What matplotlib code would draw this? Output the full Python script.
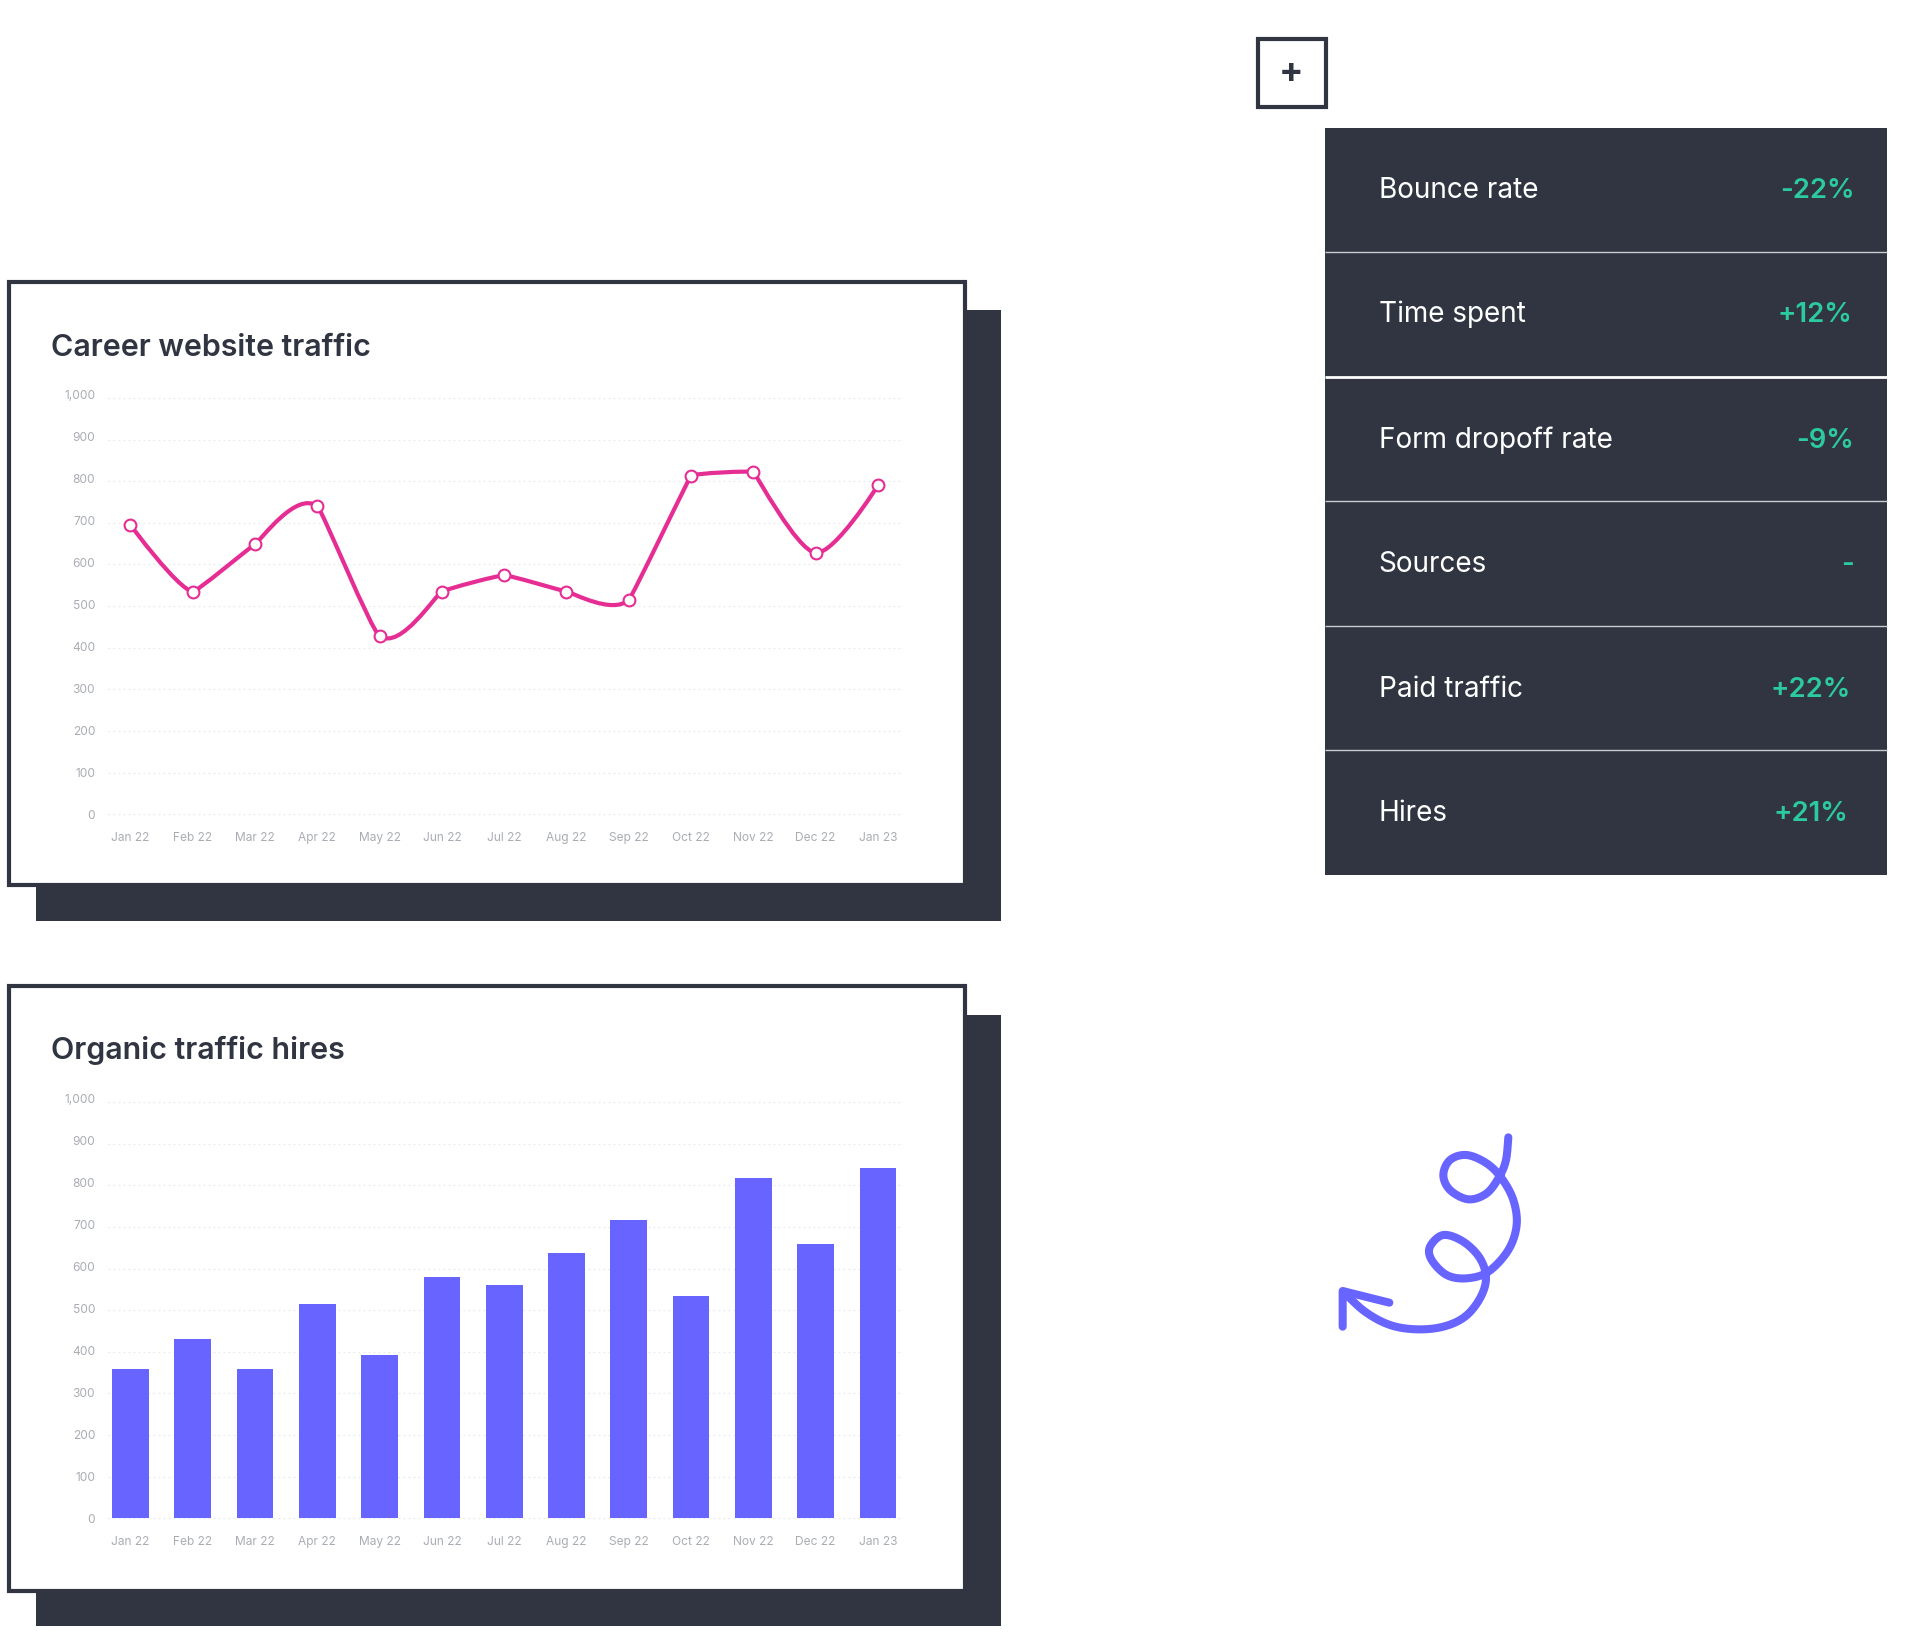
import numpy as np
import matplotlib
matplotlib.use("Agg")
import matplotlib.pyplot as plt
from matplotlib.patches import Rectangle, PathPatch
from matplotlib.path import Path
from matplotlib.transforms import ScaledTranslation

plt.rcParams['font.family'] = ['Inter', 'DejaVu Sans']

months = ["Jan 22", "Feb 22", "Mar 22", "Apr 22", "May 22", "Jun 22", "Jul 22",
          "Aug 22", "Sep 22", "Oct 22", "Nov 22", "Dec 22", "Jan 23"]
traffic = [695, 535, 649, 740, 428, 535, 574, 535, 515, 813, 822, 628, 790]
hires = [359, 430, 359, 515, 393, 580, 560, 637, 716, 534, 818, 660, 842]
yticks = [0, 100, 200, 300, 400, 500, 600, 700, 800, 900, 1000]
ylabels = ["0", "100", "200", "300", "400", "500", "600", "700", "800", "900", "1,000"]
metrics = ["Bounce rate", "Time spent", "Form dropoff rate", "Sources", "Paid traffic", "Hires"]
changes = ["-22%", "+12%", "-9%", "-", "+22%", "+21%"]

DARK = "#303541"
PINK = "#E52D93"
BLUE = "#6864FF"
GREEN = "#2BCB9F"
GREY = "#A9ADB3"
W, H = 1920, 1639
S = 1920 / 1568

# curve rounding entering / leaving each point (share of the neighbour chord)
round_in = [0, .12, .05, .17, .07, .05, .05, .05, .13, .02, .02, .15, 0]
round_out = [0, .03, .05, .04, .17, .05, .05, .05, .03, .02, .02, .15, 0]

fig = plt.figure(figsize=(W / 100, H / 100), dpi=100, facecolor="white")
bg = fig.add_axes([0, 0, 1, 1], zorder=0)
bg.set_xlim(0, W)
bg.set_ylim(H, 0)
bg.axis("off")


def box(x0, y0, x1, y1, **kw):
    bg.add_patch(Rectangle((x0 * S, y0 * S), (x1 - x0) * S, (y1 - y0) * S, **kw))


def card(top, title, box_dy=0.0, title_dy=0.0):
    box(29, top + 24, 817.3, top + 523, fc=DARK, ec="none")
    box(7.5, top + 1.5 + box_dy, 787.8, top + 494, fc="white", ec=DARK, lw=3.0)
    bg.text(42 * S, (top + 62 + title_dy) * S, title, fontsize=21.9, fontweight=600, color=DARK,
            va="baseline", ha="left")


def chart(top):
    left, right = 88 * S, 735 * S
    ytop, ybot = (top + 96) * S, (top + 436) * S
    ax = fig.add_axes([left / W, 1 - ybot / H, (right - left) / W, (ybot - ytop) / H], zorder=2)
    ax.patch.set_alpha(0)
    ax.set_ylim(0, 1000)
    ax.set_xlim(-0.364, 12.354)
    for s in ax.spines.values():
        s.set_visible(False)
    ax.set_xticks(range(len(months)), months)
    ax.set_yticks(yticks, ylabels)
    ax.tick_params(length=0, labelsize=8.6, labelcolor=GREY)
    ax.tick_params(axis="x", pad=13)
    ax.tick_params(axis="y", pad=9)
    ax.grid(axis="y", color="#E8EAEC", lw=0.9, ls=(0, (1.5, 2.5)), clip_on=False)
    ax.set_axisbelow(True)
    for v, lab in zip(yticks, ax.get_yticklabels()):
        off = ScaledTranslation(0, 3.5 / 100 * v / 1000, fig.dpi_scale_trans)
        lab.set_transform(lab.get_transform() + off)
    return ax


def spline_path(xs, ys, ax):
    p = ax.transData.transform(np.column_stack([xs, ys]))
    n = len(p)
    verts = [p[0]]
    codes = [Path.MOVETO]
    cp_prev = p[0]
    for i in range(n - 1):
        if i + 2 < n:
            chord = p[i + 2] - p[i]
            cp_in = p[i + 1] - round_in[i + 1] * chord
            cp_out = p[i + 1] + round_out[i + 1] * chord
        else:
            cp_in = cp_out = p[i + 1]
        verts += [cp_prev, cp_in, p[i + 1]]
        codes += [Path.CURVE4] * 3
        cp_prev = cp_out
    return Path(ax.transData.inverted().transform(np.array(verts)), codes)


# --- line card
card(229, "Career website traffic")
ax1 = chart(229)
x = np.arange(len(months))
ax1.add_patch(PathPatch(spline_path(x, traffic, ax1), fc="none", ec=PINK, lw=3.0,
                        capstyle="round", zorder=3))
ax1.plot(x, traffic, ls="none", marker="o", ms=8.5, mfc="white", mec=PINK, mew=1.5,
         zorder=4, clip_on=False)

# --- bar card
card(805, "Organic traffic hires", box_dy=-1.5, title_dy=-2)
ax2 = chart(804)
ax2.bar(x, hires, width=0.59, color=BLUE, zorder=3)

# --- plus button
box(1027, 32, 1082.5, 87.5, fc="white", ec=DARK, lw=3.0)
bg.text(1054.5 * S, 57 * S, "+", fontsize=26, fontweight=700, color=DARK,
        ha="center", va="center_baseline")

# --- metrics panel
box(1082, 104.3, 1541, 714.3, fc=DARK, ec="none")
row_h = 610 / 6
right_edge = [1514.5, 1512.5, 1514.5, 1514, 1511.5, 1509.5]
for i, (m, c) in enumerate(zip(metrics, changes)):
    yc = 104.3 + row_h * (i + 0.5) + 6.3 + (0.8 if i >= 2 else 0)
    bg.text(1126 * S, yc * S, m, fontsize=20.1, color="white", ha="left", va="baseline")
    bg.text(right_edge[i] * S, yc * S, c, fontsize=19.8, fontweight=600, color=GREEN,
            ha="right", va="baseline")
    if i:
        y = 104.3 + row_h * i
        lw, col = (2, "white") if i == 2 else (1, "#C9CCD2")
        bg.plot([1082 * S, 1541 * S], [y * S, y * S], color=col, lw=lw, solid_capstyle="butt")

# --- decorative squiggle (positions in zoom coordinates of the drawing)
squiggle = np.array([
    (625, 82), (618, 150), (598, 200), (560, 250), (505, 268), (450, 240), (430, 195),
    (450, 150), (500, 135), (560, 160), (605, 205), (640, 270), (650, 345), (625, 420),
    (565, 485), (500, 505), (440, 495), (395, 450), (390, 410), (430, 375), (490, 395),
    (540, 445), (558, 505), (540, 565), (495, 620), (430, 650), (350, 658), (270, 645),
    (195, 605), (130, 545)], float) / 3 + (1300, 1110)


def catmull(pts, k=24):
    q = np.vstack([pts[0], pts, pts[-1]])
    out = []
    for i in range(1, len(q) - 2):
        t = np.linspace(0, 1, k, endpoint=False)[:, None]
        a, b, c, d = q[i - 1], q[i], q[i + 1], q[i + 2]
        out.append(0.5 * (2 * b + (c - a) * t + (2 * a - 5 * b + 4 * c - d) * t ** 2
                          + (3 * b - a - 3 * c + d) * t ** 3))
    out.append(pts[-1:])
    return np.vstack(out)


c = catmull(squiggle)
bg.plot(c[:, 0], c[:, 1], color=BLUE, lw=5.8, solid_capstyle="round", solid_joinstyle="round")
head = np.array([(128, 650), (128, 543), (268, 578)], float) / 3 + (1300, 1110)
bg.plot(head[:, 0], head[:, 1], color=BLUE, lw=5.8, solid_capstyle="round", solid_joinstyle="round")

fig.savefig("out.png", dpi=100, facecolor="white")
